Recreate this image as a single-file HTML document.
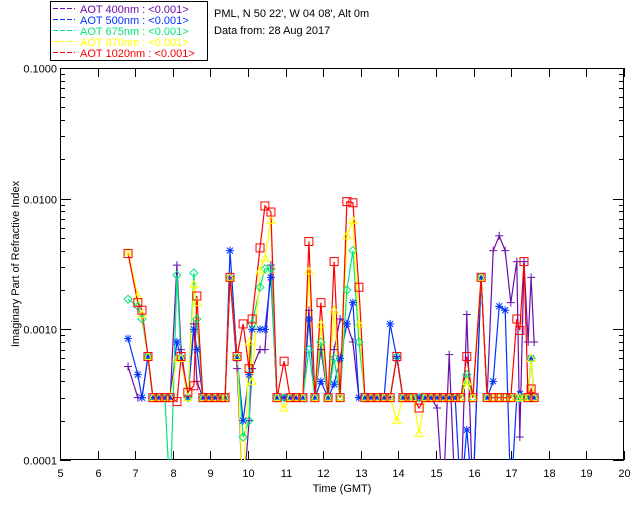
<!DOCTYPE html>
<html><head><meta charset="utf-8"><style>
html,body{margin:0;padding:0;background:#fff;}
svg{display:block;font-family:"Liberation Sans",sans-serif;}
</style></head><body>
<svg id="chart" width="640" height="512" viewBox="0 0 640 512" xmlns="http://www.w3.org/2000/svg">
<rect x="0" y="0" width="640" height="512" fill="#fff"/>
<defs><clipPath id="plotclip"><rect x="60" y="68" width="564" height="392"/></clipPath></defs>
<g id="legend">
<rect x="50.5" y="1.5" width="157" height="59" fill="#fff" stroke="#000" stroke-width="1"/>
</g>
<text x="214" y="17" font-size="11">PML, N 50 22', W 04 08', Alt 0m</text>
<text x="214" y="34" font-size="11">Data from: 28 Aug 2017</text>
<g id="axes"></g>
<g id="series" clip-path="url(#plotclip)"></g>
<g id="markers"></g>
</svg>
<script>
const times = [6.81,7.07,7.18,7.34,7.47,7.63,7.79,7.93,8.11,8.22,
8.40,8.56,8.64,8.80,8.96,9.12,9.28,9.39,9.52,9.71,
9.87,10.03,10.11,10.32,10.45,10.61,10.77,10.96,11.12,11.28,
11.46,11.62,11.78,11.94,12.13,12.29,12.45,12.63,12.79,12.95,
13.11,13.27,13.43,13.62,13.78,13.96,14.12,14.28,14.39,14.55,
14.71,14.87,15.03,15.19,15.35,15.51,15.66,15.82,15.98,16.20,
16.36,16.52,16.68,16.84,16.99,17.15,17.23,17.34,17.45,17.53,17.61];
const v1020 = [.0038,.0016,.0014,.00062,.0003,.0003,.0003,.0003,.00028,.00062,
.00033,.00037,.0018,.0003,.0003,.0003,.0003,.0003,.0025,.00062,
.0011,.0005,.0012,.0042,.0088,.0079,.0003,.00057,.0003,.0003,
.0003,.0047,.0003,.0016,.0003,.0033,.0003,.0095,.0093,.0021,
.0003,.0003,.0003,.0003,.0003,.00062,.0003,.0003,.0003,.00025,
.0003,.0003,.0003,.0003,.0003,.0003,.0003,.00062,.0003,.0025,
.0003,.0003,.0003,.0003,.0003,.0012,.00098,.0033,.0003,.00035,.0003];
const v870 = [.0039,.0018,.0013,.00062,.0003,.0003,.0003,.0003,.0006,.0006,
.0003,.0022,.0016,.0003,.0003,.0003,.0003,.0003,.0025,.00062,
.00005,.0008,.0004,.0028,.0035,.0068,.0003,.00025,.0003,.0003,
.0003,.0028,.0003,.0011,.0003,.0014,.0003,.0052,.0068,.0011,
.0003,.0003,.0003,.0003,.0003,.0002,.0003,.0003,.0003,.00016,
.0003,.0003,.0003,.0003,.0003,.0003,.0003,.0004,.0003,.0025,
.0003,.0003,.0003,.0003,.0003,.0003,.0003,.0003,.0003,.0006,.0003];
const v675 = [.0017,.0015,.0012,.00062,.0003,.0003,.0003,.00005,.0026,.0006,
.0003,.0027,.0012,.0003,.0003,.0003,.0003,.0003,.0025,.00062,
.00015,.0002,.0011,.0021,.0029,.0029,.0003,.0003,.0003,.0003,
.0003,.0007,.0003,.0008,.0003,.0006,.0003,.002,.004,.0008,
.0003,.0003,.0003,.0003,.0003,.00062,.0003,.0003,.0003,.0003,
.0003,.0003,.0003,.0003,.0003,.0003,.0003,.00045,.0003,.0025,
.0003,.0003,.0003,.0003,.0003,.0003,.0003,.0003,.0003,.0006,.0003];
const v500 = [.00085,.00045,.0003,.00062,.0003,.0003,.0003,.0003,.0008,.0006,
.0003,.001,.0007,.0003,.0003,.0003,.0003,.0003,.004,.0006,
.0002,.00045,.001,.001,.001,.0025,.0003,.0003,.0003,.0003,
.0003,.0012,.0003,.0004,.0003,.00038,.0006,.0011,.0016,.0003,
.0003,.0003,.0003,.0003,.0011,.0006,.0003,.0003,.0003,.0003,
.0003,.0003,.0003,.0003,.0003,.0003,.00005,.00017,.00005,.0025,
.0003,.0004,.0015,.0014,.00005,.0003,.00032,.0003,.0003,.0006,.0003];
const v400 = [.00052,.0003,.0003,.00062,.0003,.0003,.0003,.0003,.0031,.0007,
.0003,.0011,.0004,.0003,.0003,.0003,.0003,.0003,.0025,.0005,
.00005,.0002,.0005,.0007,.0007,.0031,.0003,.0003,.0003,.0003,
.0003,.0014,.0003,.0007,.0003,.0007,.0012,.0011,.0008,.0003,
.0003,.0003,.0003,.0003,.0003,.00062,.0003,.0003,.0003,.0003,
.0003,.0003,.00025,.00005,.00064,.00005,.00005,.0013,.00005,.0025,
.0003,.004,.0052,.004,.0016,.0033,.00015,.0033,.0008,.0025,.0008];
const xTicks = [5,6,7,8,9,10,11,12,13,14,15,16,17,18,19,20];
const yTicks = [0.1,0.01,0.001,0.0001];
const yTickLabels = ["0.1000","0.0100","0.0010","0.0001"];
const seriesNames = ["AOT  400nm : <0.001>","AOT  500nm : <0.001>","AOT  675nm : <0.001>","AOT  870nm : <0.001>","AOT 1020nm : <0.001>"];

const NS="http://www.w3.org/2000/svg";
const X0=60,X1=624,Y0=68,Y1=460;
function xs(t){return X0+(t-5)/(20-5)*(X1-X0);}
function ys(v){return Y0+(-1-Math.log10(v))/3*(Y1-Y0);}
function mk(tag,attrs,parent){const e=document.createElementNS(NS,tag);for(const k in attrs)e.setAttribute(k,attrs[k]);parent.appendChild(e);return e;}
const axes=document.getElementById('axes');
const frame=mk('rect',{x:X0+0.5,y:Y0+0.5,width:X1-X0-1,height:Y1-Y0-1,fill:'none',stroke:'#000','stroke-width':1},axes);


xTicks.forEach(t=>{
  const x=Math.round(xs(t))+0.5;
  mk('line',{x1:x,y1:Y1,x2:x,y2:Y1-9,stroke:'#000'},axes);
  mk('line',{x1:x,y1:Y0,x2:x,y2:Y0+9,stroke:'#000'},axes);
  const tx=mk('text',{x:x,y:Y1+17,'font-size':11,'text-anchor':'middle'},axes);
  tx.textContent=t;
  
  
});
yTicks.forEach((v,i)=>{
  const y=Math.round(ys(v))+0.5;
  mk('line',{x1:X0,y1:y,x2:X0+11,y2:y,stroke:'#000'},axes);
  mk('line',{x1:X1,y1:y,x2:X1-11,y2:y,stroke:'#000'},axes);
  const tx=mk('text',{x:X0-3,y:y+4,'font-size':11,'text-anchor':'end'},axes);
  tx.textContent=yTickLabels[i];
  
  
  if(i>0){for(let m=2;m<10;m++){const yy=Math.round(ys(v*m))+0.5;
    mk('line',{x1:X0,y1:yy,x2:X0+5,y2:yy,stroke:'#000'},axes);
    mk('line',{x1:X1,y1:yy,x2:X1-5,y2:yy,stroke:'#000'},axes);}}
});
const xt=mk('text',{x:(X0+X1)/2,y:492,'font-size':11,'text-anchor':'middle'},axes);
xt.textContent='Time (GMT)';


const yt=mk('text',{x:0,y:0,'font-size':11,'text-anchor':'middle',transform:'translate(19,264) rotate(-90)'},axes);
yt.textContent='Imaginary Part of Refractive Index';



const allSeries=[v400,v500,v675,v870,v1020];
const colors=['#6a0dad','#0033ff','#00e87a','#ffff00','#ff0000'];
const shapes=['plus','star','diamond','tri','square'];
const sg=document.getElementById('series'), mg=document.getElementById('markers');
function marker(shape,x,y,c,g){
  if(shape==='plus'){mk('path',{d:`M${x-4},${y}H${x+4}M${x},${y-4}V${y+4}`,stroke:c,fill:'none'},g);}
  else if(shape==='star'){mk('path',{d:`M${x-4},${y}H${x+4}M${x},${y-4}V${y+4}M${x-3},${y-3}L${x+3},${y+3}M${x-3},${y+3}L${x+3},${y-3}`,stroke:c,fill:'none'},g);}
  else if(shape==='diamond'){mk('path',{d:`M${x},${y-4}L${x+4},${y}L${x},${y+4}L${x-4},${y}Z`,stroke:c,fill:'none'},g);}
  else if(shape==='tri'){mk('path',{d:`M${x},${y-4}L${x+4},${y+3}L${x-4},${y+3}Z`,stroke:c,fill:'none'},g);}
  else {mk('rect',{x:x-4,y:y-4,width:8,height:8,stroke:c,fill:'none'},g);}
}
allSeries.forEach((vals,si)=>{
  const pts=vals.map((v,i)=>xs(times[i]).toFixed(1)+','+ys(v).toFixed(1)).join(' ');
  const pl=mk('polyline',{points:pts,fill:'none',stroke:colors[si],'stroke-width':1.2},sg);
  
  
  const g=mk('g',{},mg);
  
  
  vals.forEach((v,i)=>{const y=ys(v); if(y<=Y1&&y>=Y0) marker(shapes[si],xs(times[i]),y,colors[si],g);});
});
const lg=document.getElementById('legend');
seriesNames.forEach((n,i)=>{
  const y=12+i*11;
  mk('line',{x1:53,y1:y-3.5,x2:75,y2:y-3.5,stroke:colors[i],'stroke-dasharray':'5,2'},lg);
  const t=mk('text',{x:80,y:y+1,'font-size':11,fill:colors[i],'xml:space':'preserve'},lg);
  t.textContent=n;
  
  
});
</script>
</body></html>
